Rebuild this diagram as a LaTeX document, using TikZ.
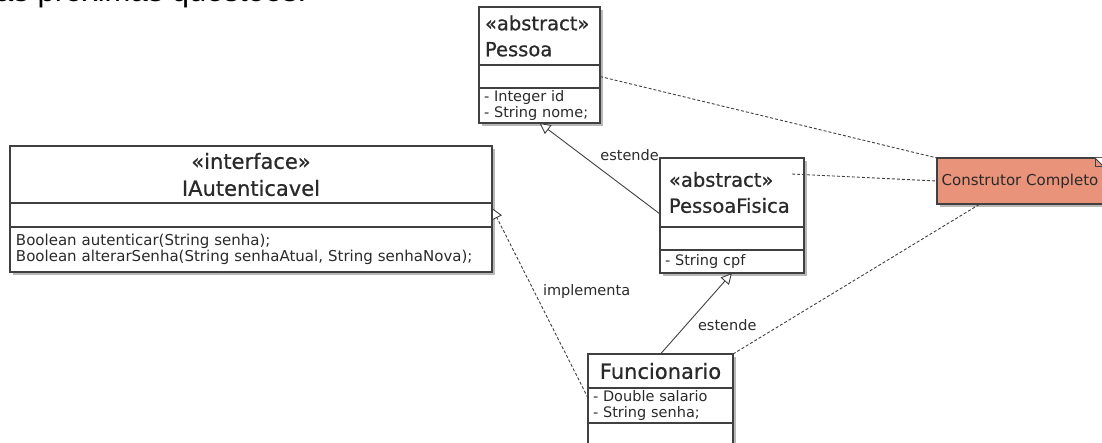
\documentclass[tikz,border=0pt]{standalone}
\usepackage{fontspec}
\setmainfont{DejaVu Sans}
\newfontfamily\headfamily[FakeBold=0.7]{DejaVu Sans}
\newfontfamily\introfamily{Liberation Sans}
\usetikzlibrary{positioning, shadows, arrows.meta}

\definecolor{linegray}{HTML}{404040}
\definecolor{textgray}{HTML}{2A2A2A}
\definecolor{shadowgray}{HTML}{B8B8B8}
\definecolor{notefill}{HTML}{E9937A}

\newcommand{\classfont}{\headfamily\fontsize{19.5}{26}\selectfont}
\newcommand{\bigclassfont}{\headfamily\fontsize{21}{27}\selectfont}
\newcommand{\memberfont}{\fontsize{14.5}{16.5}\selectfont}
\newcommand{\methodfont}{\fontsize{15}{16.5}\selectfont}
\newcommand{\linkfont}{\fontsize{14.5}{17}\selectfont}
\newcommand{\notefont}{\fontsize{15}{18}\selectfont}
\newcommand{\introfont}{\introfamily\fontsize{31}{36}\selectfont}

\tikzstyle{compart} = [rectangle, draw=linegray, line width=1.1pt, fill=white, text=textgray, inner ysep=0pt, outer sep=0pt, drop shadow={shadow xshift=3pt, shadow yshift=-3pt, fill=shadowgray, opacity=1}]
\tikzstyle{classhead} = [compart, anchor=north west, align=left, inner xsep=6pt, font=\classfont]
\tikzstyle{members} = [compart, inner xsep=5pt, align=left, font=\memberfont]
\tikzstyle{notebox} = [rectangle, draw=linegray, line width=1.1pt, fill=notefill, text=textgray, inner sep=0pt, outer sep=0pt, font=\notefont, drop shadow={shadow xshift=3pt, shadow yshift=-3pt, fill=shadowgray, opacity=1}]
\tikzstyle{linklabel} = [font=\linkfont, text=textgray]
\tikzstyle{link} = [draw=linegray, line width=0.9pt]
\tikzstyle{dep} = [link, dash pattern=on 3pt off 2pt]
\tikzstyle{extends} = [link, -{Triangle[open, fill=white, length=11pt, width=11pt]}]
\tikzstyle{realizes} = [dep, -{Triangle[open, fill=white, length=11pt, width=11pt]}]

\begin{document}
\begin{tikzpicture}[x=1pt, y=-1pt, node distance=0pt]
    \useasboundingbox (0,0) rectangle (1102,443);

    \node (intro) [anchor=base west, inner sep=0pt, font=\introfont] at (-4,1.5) {as próximas questões:};

    % Pessoa
    \node (pessoa) [classhead, text width=109pt, minimum height=58pt] at (479,7) {«abstract»\\Pessoa};
    \node (pessoaA) [members, below=of pessoa, text width=111pt, minimum height=23pt] {};
    \node (pessoaB) [members, below=of pessoaA, text width=111pt, minimum height=35pt] {- Integer id\\- String nome;};

    % IAutenticavel
    \node (ia) [classhead, align=center, font=\bigclassfont, text width=470pt, minimum height=57pt] at (10,146) {«interface»\\IAutenticavel};
    \node (iaA) [members, below=of ia, text width=472pt, minimum height=24pt] {};
    \node (iaB) [members, below=of iaA, inner xsep=6pt, font=\methodfont, text width=470pt, minimum height=45pt] {Boolean autenticar(String senha);\\Boolean alterarSenha(String senhaAtual, String senhaNova);};

    % PessoaFisica
    \node (pf) [classhead, inner xsep=9pt, text width=126pt, minimum height=69pt] at (660,158) {«abstract»\\PessoaFisica};
    \node (pfA) [members, below=of pf, text width=134pt, minimum height=23pt] {};
    \node (pfB) [members, below=of pfA, text width=134pt, minimum height=23pt] {- String cpf};

    % Funcionario
    \node (func) [classhead, align=center, font=\bigclassfont, text width=133pt, minimum height=34pt] at (588,354) {Funcionario};
    \node (funcA) [members, below=of func, text width=135pt, minimum height=35pt] {- Double salario\\- String senha;};
    \node (funcB) [members, below=of funcA, text width=135pt, minimum height=24pt] {};

    % nota
    \node (note) [notebox, anchor=north west, minimum width=166pt, minimum height=46pt] at (937,158) {Construtor Completo};
    \fill [white] ([xshift=-8pt]note.north east) -- (note.north east) -- ([yshift=-8pt]note.north east) -- cycle;
    \draw [linegray, line width=0.9pt] ([xshift=-8pt]note.north east) -- ([yshift=-8pt]note.north east);
    \draw [linegray, line width=0.9pt] ([xshift=-8pt]note.north east) |- ([yshift=-8pt]note.north east);

    \draw [dep] (pessoaA.east) -- (note.north west);
    \draw [dep] ([xshift=-12pt, yshift=18.5pt]pf.east) -- (note.west);
    \draw [dep] (func.north east) -- ([xshift=43pt]note.south west);

    \draw [extends] ([yshift=13pt]pf.south west) -- (pessoaB.south);
    \node (estendeA) [linklabel, anchor=east, inner sep=1pt] at ([yshift=2.5pt]pf.north west) {estende};
    \draw [extends] (func.north) -- node[linklabel, pos=0.36, right=8pt] {estende} (pfB.south);
    \draw [realizes] ([yshift=-10pt]funcA.north west) -- node[linklabel, pos=0.56, right=5pt] {implementa} ([yshift=7pt]iaA.east);

\end{tikzpicture}
\end{document}
